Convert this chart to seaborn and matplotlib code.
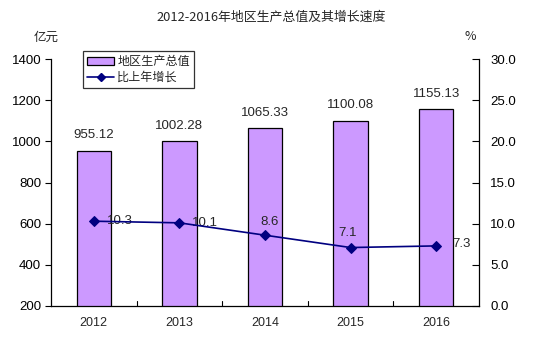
import matplotlib
matplotlib.use("Agg")
import matplotlib.pyplot as plt
import seaborn as sns
import pandas as pd
import numpy as np
from matplotlib.lines import Line2D
from matplotlib.patches import Patch

years = ["2012", "2013", "2014", "2015", "2016"]
gdp = [955.12, 1002.28, 1065.33, 1100.08, 1155.13]
growth = [10.3, 10.1, 8.6, 7.1, 7.3]
left_ticks = [200, 400, 600, 800, 1000, 1200, 1400]
right_ticks = [0.0, 5.0, 10.0, 15.0, 20.0, 25.0, 30.0]

sns.set_theme(style="white")
plt.rcParams["font.family"] = ["Noto Sans CJK SC", "DejaVu Sans"]
NUM_FONT = ["Liberation Sans", "DejaVu Sans"]

df = pd.DataFrame({"year": years, "gdp": gdp, "growth": growth})

fig = plt.figure(figsize=(5.43, 3.5), dpi=100)
ax = fig.add_axes([51 / 543, 1 - 306 / 350, 428 / 543, 247 / 350])

sns.barplot(data=df, x="year", y="gdp", ax=ax, color="#CC99FF", saturation=1,
            width=0.4, edgecolor="black", linewidth=0.9, zorder=2)
ax.set_ylim(200, 1400)
ax.set_xlim(-0.5, 4.5)
ax.set_yticks(left_ticks)
ax.set_yticklabels([str(t) for t in left_ticks], fontsize=9.5, family=NUM_FONT)
for lbl in ax.get_xticklabels():
    lbl.set_family(NUM_FONT)
    lbl.set_fontsize(9)
ax.set_xlabel("")
ax.set_ylabel("")
ax.tick_params(axis="y", direction="out", length=4, width=0.8, colors="black", pad=3, left=True)
ax.tick_params(axis="x", length=0, pad=8)

# category separators on the baseline
for b in np.arange(0.5, 4.5, 1.0):
    ax.plot([b, b], [200, 225], color="black", lw=0.8, zorder=3, clip_on=False)

for i, v in enumerate(gdp):
    ax.text(i, v + 45, f"{v:.2f}", ha="center", va="bottom", fontsize=9.5, family=NUM_FONT)

for s in ["left", "bottom"]:
    ax.spines[s].set_color("black")
    ax.spines[s].set_linewidth(0.9)
ax.spines["top"].set_visible(False)
ax.spines["right"].set_visible(False)

ax2 = ax.twinx()
sns.lineplot(data=df, x="year", y="growth", ax=ax2, color="#000080", marker="D",
             markersize=5, markeredgecolor="#000080", linewidth=1.2, zorder=4)
ax2.set_ylim(0, 30)
ax2.set_yticks(right_ticks)
ax2.set_yticklabels([f"{t:.1f}" for t in right_ticks], fontsize=9.5, family=NUM_FONT)
ax2.set_ylabel("")
ax2.tick_params(axis="y", direction="in", length=5, width=0.8, colors="black", pad=8, right=True)
ax2.spines["top"].set_visible(False)
ax2.spines["left"].set_visible(False)
ax2.spines["bottom"].set_visible(False)
ax2.spines["right"].set_color("black")
ax2.spines["right"].set_linewidth(0.9)

offsets = [(0.3, 0.0), (0.3, 0.0), (0.05, 1.6), (-0.03, 1.8), (0.3, 0.2)]
for i, v in enumerate(growth):
    dx, dy = offsets[i]
    ax2.text(i + dx, v + dy, f"{v}", ha="center", va="center", fontsize=9.5, family=NUM_FONT)

handles = [Patch(facecolor="#CC99FF", edgecolor="black", linewidth=0.9, label="地区生产总值"),
           Line2D([0], [0], color="#000080", marker="D", markersize=4, lw=1.2, label="比上年增长")]
leg = fig.legend(handles=handles, loc="upper left", bbox_to_anchor=(83 / 543, 1 - 51 / 350),
                 frameon=True, fancybox=False, fontsize=8.7, borderpad=0.35,
                 handlelength=2.2, handleheight=0.6, labelspacing=0.2, borderaxespad=0,
                 handletextpad=0.3)
leg.get_frame().set_edgecolor("black")
leg.get_frame().set_linewidth(0.9)

fig.text(271 / 543, 1 - 17 / 350, "2012-2016年地区生产总值及其增长速度", ha="center", va="center", fontsize=9.3)
fig.text(46 / 543, 1 - 37 / 350, "亿元", ha="center", va="center", fontsize=9)
fig.text(470 / 543, 1 - 37 / 350, "%", ha="center", va="center", fontsize=9)

fig.savefig("out.png", dpi=100)
